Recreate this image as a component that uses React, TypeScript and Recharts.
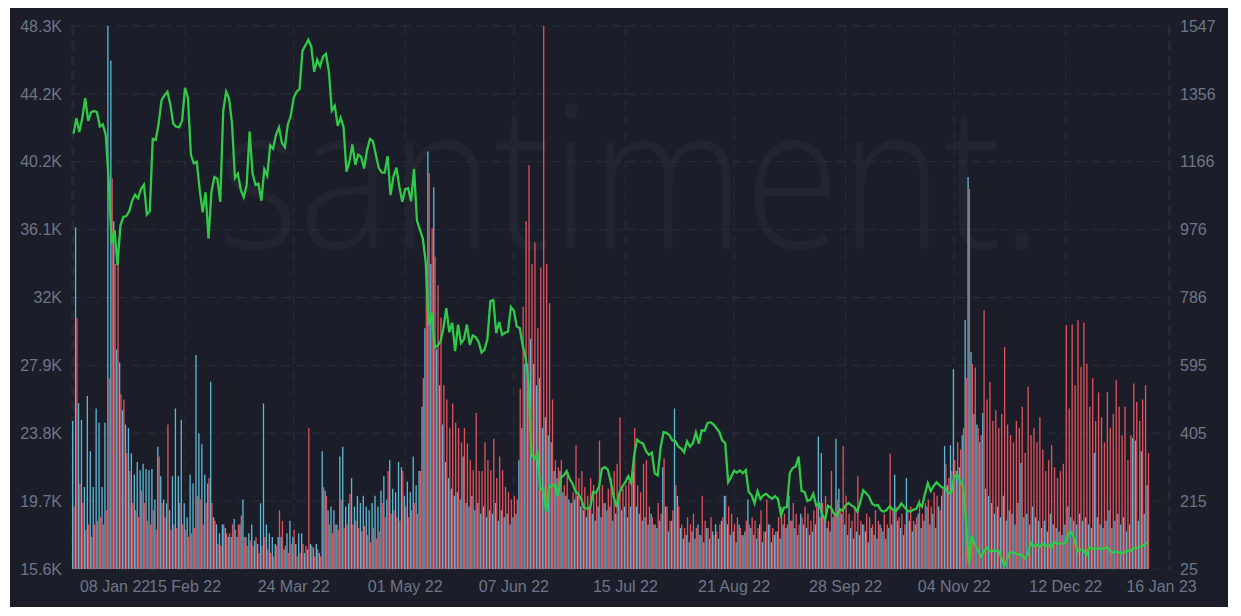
import React from "react";
import { ComposedChart, Bar, Line, XAxis, YAxis, CartesianGrid } from "recharts";

// ---- data (daily, starting 08 Jan 2022) ----
const AXIS_DAYS = 374; // 08 Jan 22 .. 16 Jan 23

// price line, thousands (left axis)
const PRICE_K = [
  41.82, 42.74, 41.91, 42.74, 43.95, 42.59, 43.10, 43.18, 43.11, 42.25,
  42.38, 41.74, 39.00, 35.20, 36.00, 33.90, 36.30, 36.80, 36.85, 37.14,
  37.78, 38.14, 37.92, 38.48, 38.74, 36.95, 37.15, 41.50, 41.44, 42.41,
  43.84, 44.12, 44.34, 43.57, 42.41, 42.24, 42.20, 42.59, 44.58, 43.96,
  40.54, 40.03, 40.12, 38.43, 37.08, 38.29, 35.50, 38.33, 39.21, 39.11,
  37.71, 43.19, 44.35, 43.93, 42.45, 39.14, 39.40, 38.42, 37.99, 38.73,
  41.94, 39.42, 38.73, 38.81, 37.78, 39.67, 39.28, 41.11, 40.92, 41.76,
  42.20, 41.26, 41.00, 42.36, 42.89, 43.96, 44.35, 44.50, 46.82, 47.13,
  47.47, 47.06, 45.54, 46.28, 45.87, 46.45, 46.62, 45.56, 43.21, 43.50,
  42.29, 42.78, 42.21, 39.52, 40.13, 41.17, 39.94, 40.55, 40.42, 39.72,
  40.83, 41.50, 41.37, 40.53, 39.74, 39.49, 39.47, 40.46, 38.12, 39.24,
  39.77, 38.61, 37.71, 38.47, 38.53, 37.75, 39.70, 36.58, 36.04, 35.50,
  34.06, 30.30, 31.02, 28.94, 29.05, 29.28, 30.10, 31.31, 29.86, 30.43,
  28.72, 30.31, 29.20, 29.43, 30.32, 29.10, 29.66, 29.56, 29.27, 28.63,
  28.81, 29.45, 31.73, 31.79, 29.80, 30.47, 29.70, 29.83, 29.91, 31.37,
  31.16, 30.21, 30.11, 29.08, 28.36, 26.76, 22.49, 22.21, 22.57, 20.38,
  20.47, 19.02, 20.55, 20.60, 20.71, 19.99, 21.09, 21.23, 21.50, 21.03,
  20.74, 20.28, 20.10, 19.78, 19.27, 19.24, 19.30, 20.23, 20.19, 20.55,
  21.64, 21.73, 21.59, 20.86, 19.97, 19.32, 20.21, 20.57, 20.84, 21.19,
  20.78, 22.49, 23.39, 23.23, 23.16, 22.71, 22.47, 22.61, 21.36, 21.24,
  22.93, 23.84, 23.80, 23.66, 23.34, 23.31, 22.98, 22.85, 22.63, 23.29,
  22.96, 23.18, 23.81, 23.15, 23.95, 23.93, 24.40, 24.44, 24.31, 24.09,
  23.85, 23.34, 23.19, 20.83, 21.14, 21.52, 21.40, 21.53, 21.37, 21.56,
  20.24, 20.04, 19.56, 20.29, 19.81, 20.05, 20.13, 19.95, 19.83, 19.99,
  19.81, 18.84, 19.29, 19.33, 21.38, 21.68, 21.77, 22.37, 20.30, 20.24,
  19.70, 19.77, 20.13, 19.42, 19.55, 18.89, 18.55, 19.41, 19.30, 18.94,
  18.80, 19.22, 19.11, 19.43, 19.57, 19.43, 19.31, 19.04, 19.62, 20.34,
  20.16, 19.96, 19.55, 19.42, 19.45, 19.14, 19.05, 19.16, 19.38, 19.19,
  19.07, 19.27, 19.55, 19.33, 19.14, 19.05, 19.17, 19.21, 19.57, 19.35,
  20.10, 20.77, 20.29, 20.60, 20.82, 20.64, 20.50, 20.49, 20.16, 20.21,
  21.15, 21.30, 20.91, 20.59, 18.54, 15.88, 17.59, 17.04, 16.80, 16.35,
  16.62, 16.88, 16.67, 16.69, 16.70, 16.71, 16.29, 15.79, 16.19, 16.61,
  16.60, 16.52, 16.46, 16.45, 16.22, 16.44, 17.17, 16.97, 17.09, 16.91,
  17.13, 16.97, 17.09, 16.85, 17.23, 17.13, 17.13, 17.11, 17.21, 17.78,
  17.82, 17.37, 16.65, 16.78, 16.74, 16.44, 16.90, 16.82, 16.82, 16.78,
  16.84, 16.83, 16.92, 16.72, 16.55, 16.64, 16.60, 16.55, 16.63, 16.69,
  16.68, 16.86, 16.84, 16.95, 16.96, 17.09, 17.20,
];

// blue bars (right axis)
const BLUE = [
  440, 983, 490, 443, 255, 510, 355, 255, 475, 435,
  255, 435, 1547, 1450, 1000, 640, 604, 470, 430, 420,
  349, 290, 325, 302, 320, 305, 302, 305, 220, 368,
  285, 220, 209, 190, 285, 475, 285, 443, 209, 170,
  290, 265, 625, 405, 375, 290, 265, 550, 170, 150,
  125, 150, 140, 115, 115, 165, 115, 150, 220, 115,
  125, 150, 105, 95, 209, 489, 150, 125, 115, 95,
  115, 115, 80, 125, 160, 115, 95, 125, 125, 70,
  80, 95, 85, 95, 70, 355, 245, 190, 200, 190,
  150, 340, 368, 200, 209, 280, 200, 230, 210, 230,
  200, 190, 210, 230, 200, 245, 285, 220, 330, 250,
  240, 325, 310, 230, 270, 240, 340, 260, 300, 480,
  700, 1195, 880, 1095, 640, 540, 430, 325, 280, 250,
  230, 240, 220, 340, 210, 200, 230, 190, 210, 180,
  200, 170, 190, 180, 210, 160, 190, 170, 180, 150,
  170, 180, 330, 420, 600, 600, 670, 600, 540, 560,
  420, 450, 400, 380, 300, 280, 300, 240, 230, 220,
  210, 220, 230, 200, 190, 170, 200, 180, 160, 200,
  170, 210, 190, 200, 160, 180, 230, 190, 200, 170,
  200, 300, 200, 180, 160, 170, 150, 180, 150, 140,
  160, 310, 200, 130, 160, 475, 230, 140, 110, 120,
  100, 130, 110, 150, 120, 100, 140, 110, 130, 150,
  110, 160, 230, 150, 120, 130, 100, 150, 120, 130,
  220, 140, 120, 110, 150, 100, 130, 150, 100, 120,
  130, 110, 150, 140, 230, 160, 140, 120, 180, 150,
  140, 120, 130, 150, 396, 350, 160, 140, 130, 170,
  390, 250, 180, 150, 120, 140, 110, 130, 120, 150,
  130, 100, 140, 120, 110, 150, 130, 110, 140, 150,
  290, 160, 140, 120, 280, 160, 130, 150, 180, 140,
  160, 200, 150, 180, 140, 200, 230, 370, 260, 372,
  585, 300, 310, 400, 723, 1124, 633, 460, 430, 380,
  462, 250, 230, 210, 180, 200, 170, 230, 160, 190,
  180, 150, 210, 322, 170, 180, 150, 200, 170, 160,
  140, 160, 130, 180, 150, 140, 130, 120, 150, 200,
  170, 160, 150, 180, 160, 170, 150, 140, 350, 170,
  150, 140, 160, 190, 140, 160, 180, 150, 170, 130,
  150, 392, 385, 160, 355, 180, 260,
];

// red bars (right axis)
const RED = [
  200, 728, 265, 210, 135, 150, 115, 150, 160, 170,
  150, 190, 560, 1120, 880, 900, 515, 500, 350, 300,
  210, 190, 170, 245, 210, 160, 150, 190, 135, 340,
  210, 170, 430, 135, 150, 140, 210, 150, 135, 115,
  125, 140, 230, 220, 150, 210, 280, 210, 160, 95,
  90, 150, 125, 125, 150, 135, 150, 175, 115, 90,
  105, 90, 115, 70, 90, 115, 80, 70, 60, 90,
  190, 160, 90, 70, 95, 135, 60, 70, 95, 90,
  420, 90, 60, 80, 60, 255, 230, 150, 125, 150,
  135, 220, 140, 150, 235, 150, 160, 140, 130, 145,
  120, 100, 140, 110, 130, 210, 170, 300, 180, 190,
  170, 160, 300, 200, 170, 190, 210, 180, 300, 560,
  870, 1135, 980, 900, 820, 730, 540, 500, 420, 489,
  435, 420, 380, 420, 377, 330, 302, 462, 300, 300,
  380, 330, 302, 390, 280, 340, 302, 255, 240, 220,
  230, 220, 530, 760, 1000, 1157, 880, 940, 700, 870,
  1547, 880, 770, 500, 330, 310, 330, 260, 300, 210,
  240, 372, 280, 300, 255, 230, 280, 260, 240, 385,
  260, 210, 250, 280, 300, 320, 450, 250, 260, 270,
  300, 420, 260, 240, 320, 330, 200, 170, 150, 210,
  180, 335, 200, 160, 190, 260, 200, 150, 140, 170,
  150, 180, 140, 120, 230, 160, 140, 170, 120, 130,
  150, 170, 230, 200, 180, 150, 170, 140, 120, 160,
  150, 170, 160, 140, 190, 130, 220, 150, 140, 130,
  170, 200, 180, 150, 160, 210, 180, 150, 170, 200,
  180, 160, 190, 200, 170, 210, 230, 160, 300, 180,
  220, 190, 370, 230, 180, 160, 200, 285, 160, 150,
  180, 170, 150, 190, 160, 140, 180, 150, 349, 190,
  200, 170, 180, 150, 190, 200, 160, 170, 220, 180,
  210, 220, 200, 240, 230, 190, 250, 320, 280, 300,
  330, 380, 360, 420, 560, 1090, 600, 590, 420, 400,
  750, 500, 549, 440, 470, 420, 460, 647, 430, 400,
  380, 440, 420, 480, 350, 536, 400, 420, 380, 450,
  360, 300, 330, 372, 310, 280, 300, 320, 709, 475,
  710, 540, 723, 591, 715, 600, 480, 560, 440, 520,
  450, 380, 521, 420, 460, 555, 480, 400, 480, 330,
  400, 545, 493, 440, 500, 540, 350,
];

const X_TICK_DATES = [
  "2022-01-08", "2022-02-15", "2022-03-24", "2022-05-01", "2022-06-07", "2022-07-15",
  "2022-08-21", "2022-09-28", "2022-11-04", "2022-12-12", "2023-01-16",
];
const X_TICK_LABELS = [
  "08 Jan 22", "15 Feb 22", "24 Mar 22", "01 May 22", "07 Jun 22", "15 Jul 22",
  "21 Aug 22", "28 Sep 22", "04 Nov 22", "12 Dec 22", "16 Jan 23",
];

const LEFT_TICKS = [15.6, 19.69, 23.78, 27.86, 31.95, 36.04, 40.13, 44.21, 48.3];
const LEFT_LABELS = ["15.6K", "19.7K", "23.8K", "27.9K", "32K", "36.1K", "40.2K", "44.2K", "48.3K"];
const RIGHT_TICKS = [25, 215.25, 405.5, 595.75, 786, 976.25, 1166.5, 1356.75, 1547];
const RIGHT_LABELS = ["25", "215", "405", "595", "786", "976", "1166", "1356", "1547"];

const dayKey = (i: number) => new Date(Date.UTC(2022, 0, 8 + i)).toISOString().slice(0, 10);

const data = Array.from({ length: AXIS_DAYS }, (_, i) => ({
  d: dayKey(i),
  price: i < PRICE_K.length ? PRICE_K[i] : null,
  blue: i < BLUE.length ? BLUE[i] : null,
  red: i < RED.length ? RED[i] : null,
}));

const FONT = "'Liberation Sans', Arial, Helvetica, sans-serif";
const TICK_COLOR = "#6f7587";

const XTick = (props: any) => {
  const { x, y, payload, index } = props;
  const idx = X_TICK_DATES.indexOf(payload.value);
  const label = idx >= 0 ? X_TICK_LABELS[idx] : "";
  let tx = x;
  let anchor: "start" | "middle" | "end" = "middle";
  if (index === 0) {
    tx = x + 6.5;
    anchor = "start";
  } else if (idx === X_TICK_DATES.length - 1) {
    tx = x - 7;
  }
  return (
    <text x={tx} y={y + 15} textAnchor={anchor} fill={TICK_COLOR} fontSize={16} fontFamily={FONT}>
      {label}
    </text>
  );
};

export default function App() {
  return (
    <div
      style={{
        width: 1218,
        height: 599,
        marginLeft: 2,
        background: "#1b1e29",
        position: "relative",
      }}
    >
      <svg width={1218} height={599} style={{ position: "absolute", left: 0, top: 0 }}>
        <text
          transform="translate(620,240) scale(0.87,1)"
          x={0}
          y={0}
          textAnchor="middle"
          fontFamily="'Open Sans', Lato, sans-serif"
          fontWeight={300}
          fontSize={200}
          fill="#ffffff"
          fillOpacity={0.032}
        >
          santiment.
        </text>
      </svg>
      <div style={{ position: "absolute", left: 0, top: 0 }}>
        <ComposedChart
          width={1218}
          height={599}
          data={data}
          margin={{ top: 18, right: 0, bottom: 8, left: 0 }}
          barCategoryGap={0}
          barGap={-0.3}
        >
          <CartesianGrid yAxisId="left" stroke="#2a2e3b" strokeDasharray="9 6" />
          <XAxis
            dataKey="d"
            ticks={X_TICK_DATES}
            interval={0}
            tick={<XTick />}
            tickLine={false}
            axisLine={false}
            height={30}
            tickMargin={2}
          />
          <YAxis
            yAxisId="left"
            domain={[15.6, 48.3]}
            ticks={LEFT_TICKS}
            interval={0}
            tickFormatter={(v: number) => LEFT_LABELS[LEFT_TICKS.indexOf(v)] ?? ""}
            width={62}
            axisLine={false}
            tickLine={false}
            tickMargin={4}
            tick={{ fill: TICK_COLOR, fontSize: 16, fontFamily: FONT }}
            allowDataOverflow
          />
          <YAxis
            yAxisId="right"
            orientation="right"
            domain={[25, 1547]}
            ticks={RIGHT_TICKS}
            interval={0}
            tickFormatter={(v: number) => RIGHT_LABELS[RIGHT_TICKS.indexOf(v)] ?? ""}
            width={58}
            axisLine={false}
            tickLine={false}
            tickMargin={4}
            tick={{ fill: TICK_COLOR, fontSize: 16, fontFamily: FONT, textAnchor: "start" }}
            allowDataOverflow
          />
          <Bar yAxisId="right" dataKey="blue" fill="#5db7d4" barSize={1.75} isAnimationActive={false} />
          <Bar yAxisId="right" dataKey="red" fill="#e0525c" barSize={1.75} isAnimationActive={false} />
          <Line
            yAxisId="left"
            dataKey="price"
            type="linear"
            stroke="#30c948"
            strokeWidth={2.3}
            dot={false}
            activeDot={false}
            isAnimationActive={false}
          />
        </ComposedChart>
      </div>
    </div>
  );
}
